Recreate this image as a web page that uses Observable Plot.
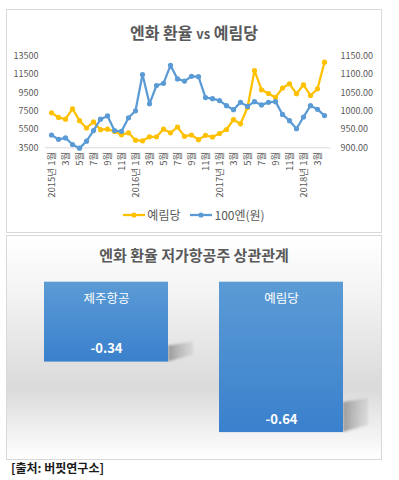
<!DOCTYPE html>
<html><head><meta charset="utf-8">
<script src="https://cdn.jsdelivr.net/npm/d3@7"></script>
<script src="https://cdn.jsdelivr.net/npm/@observablehq/plot@0.6"></script>
<style>
html,body{margin:0;padding:0;background:#fff;}
body{font-family:"Noto Sans CJK KR","Noto Sans",sans-serif;}
#page{position:relative;width:399px;height:480px;overflow:hidden;}
.panel{position:absolute;box-sizing:border-box;border:1px solid #d9d9d9;}
#p1{left:6px;top:9px;width:376px;height:224px;background:#fff;}
#p2{left:6px;top:235px;width:376px;height:225px;
  background:linear-gradient(180deg,#ffffff 0%,#f4f4f4 25%,#dadada 68%,#f6f6f6 92%,#ffffff 100%);}
.title{position:absolute;left:0;width:100%;text-align:center;color:#595959;font-weight:700;line-height:1;}
.title .vs{font-size:13px;}
.panel svg.plot{position:absolute;left:0;top:0;}
#legend{position:absolute;left:0;top:199px;width:100%;display:flex;justify-content:center;gap:10px;
  font-size:12px;color:#595959;line-height:1;}
#legend .item{display:flex;align-items:center;gap:2px;}
#source{position:absolute;left:11px;top:459px;font-size:12px;font-weight:700;color:#1a1a1a;}
</style>
</head>
<body>
<svg width="0" height="0" style="position:absolute">
  <defs>
    <linearGradient id="barGrad" x1="0" y1="0" x2="0" y2="1">
      <stop offset="0%" stop-color="#5b9bd5"/>
      <stop offset="100%" stop-color="#3a80cc"/>
    </linearGradient>
    <linearGradient id="shadowGrad" x1="0" y1="0" x2="1" y2="0">
      <stop offset="0%" stop-color="#8c8c8c" stop-opacity="0.85"/>
      <stop offset="100%" stop-color="#bdbdbd" stop-opacity="0.35"/>
    </linearGradient>
    <filter id="blur1" x="-20%" y="-20%" width="140%" height="140%">
      <feGaussianBlur stdDeviation="1.3"/>
    </filter>
  </defs>
</svg>
<div id="page">
  <div class="panel" id="p1">
    <div class="title" style="top:14px;font-size:16px;">엔화 환율 <span class="vs">vs</span> 예림당</div>
    <div id="legend"></div>
  </div>
  <div class="panel" id="p2">
    <div class="title" style="top:11px;font-size:15px;">엔화 환율 저가항공주 상관관계</div>
  </div>
  <div id="source">[출처: 버핏연구소]</div>
</div>
<script>
// ---------- data ----------
const periods = [
  "2015-01","2015-02","2015-03","2015-04","2015-05","2015-06","2015-07","2015-08","2015-09","2015-10","2015-11","2015-12",
  "2016-01","2016-02","2016-03","2016-04","2016-05","2016-06","2016-07","2016-08","2016-09","2016-10","2016-11","2016-12",
  "2017-01","2017-02","2017-03","2017-04","2017-05","2017-06","2017-07","2017-08","2017-09","2017-10","2017-11","2017-12",
  "2018-01","2018-02","2018-03","2018-04"
];
const tickLabels = [
  "2015년 1월","3월","5월","7월","9월","11월",
  "2016년 1월","3월","5월","7월","9월","11월",
  "2017년 1월","3월","5월","7월","9월","11월",
  "2018년 1월","3월"
];
const yearimdang = [
  7320,6820,6620,7760,6460,5660,6320,5480,5530,5290,4920,5140,
  4330,4260,4700,4700,5530,5130,5770,4750,4900,4390,4860,4680,
  5060,5500,6570,6120,7900,11940,9830,9430,9000,10030,10490,9400,
  10380,9210,9940,12850
];
const yen100 = [
  935,923,927,909,899,918,947,978,987,947,945,982,
  1001,1100,1020,1070,1076,1125,1088,1082,1095,1094,1037,1034,
  1029,1015,1004,1024,1013,1026,1017,1024,1026,991,974,952,
  984,1015,1005,988
];
const leftTicks = [3500,5500,7500,9500,11500,13500];
const rightTicks = [900,950,1000,1050,1100,1150];
const seriesNames = ["예림당","100엔(원)"];
const seriesColors = ["#FFC000","#5B9BD5"];

const corrNames = ["제주항공","예림당"];
const corrValues = [-0.34,-0.64];

// ---------- helpers ----------
const L0 = leftTicks[0], L1 = leftTicks[leftTicks.length-1];
const R0 = rightTicks[0], R1 = rightTicks[rightTicks.length-1];
const toLeft = v => L0 + (v - R0) * (L1 - L0) / (R1 - R0);
const fromLeft = v => R0 + (v - L0) * (R1 - R0) / (L1 - L0);

const rowsA = periods.map((p,i) => ({period:p, v:yearimdang[i]}));
const rowsB = periods.map((p,i) => ({period:p, v:toLeft(yen100[i])}));
const tickPeriods = periods.filter((_,i) => i % 2 === 0).slice(0, tickLabels.length);
const labelOf = p => tickLabels[tickPeriods.indexOf(p)];

const font = '"Noto Sans CJK KR","Noto Sans",sans-serif';

// ---------- chart 1 ----------
const chart1 = Plot.plot({
  width: 374, height: 222,
  marginLeft: 38, marginRight: 51, marginTop: 45.7, marginBottom: 84.7,
  style: {fontFamily: font, fontSize: "9px", color: "#595959", background: "transparent", overflow: "visible"},
  x: {type: "point", domain: periods, padding: 0.5, axis: null},
  y: {domain: [L0, L1], axis: null},
  marks: [
    Plot.ruleY([L0], {stroke: "#d9d9d9", strokeWidth: 1}),
    Plot.axisY(leftTicks, {anchor: "left", tickSize: 0, tickPadding: 7, label: null, fill: "#595959",
      tickFormat: d => String(d)}),
    Plot.axisY(leftTicks, {anchor: "right", tickSize: 0, tickPadding: 10, label: null, fill: "#595959",
      tickFormat: d => fromLeft(d).toFixed(2)}),
    Plot.axisX(tickPeriods, {anchor: "bottom", tickSize: 0, tickPadding: 4, tickRotate: -90, label: null,
      tickFormat: labelOf, fill: "#595959", fontSize: 9.5}),
    Plot.line(rowsA, {x: "period", y: "v", stroke: seriesColors[0], strokeWidth: 2.25, curve: "linear"}),
    Plot.dot(rowsA, {x: "period", y: "v", r: 2.6, fill: seriesColors[0], stroke: "none"}),
    Plot.line(rowsB, {x: "period", y: "v", stroke: seriesColors[1], strokeWidth: 2.25, curve: "linear"}),
    Plot.dot(rowsB, {x: "period", y: "v", r: 2.6, fill: seriesColors[1], stroke: "none"})
  ]
});
chart1.classList.add("plot");
document.getElementById("p1").appendChild(chart1);

// legend
const legend = document.getElementById("legend");
seriesNames.forEach((name, i) => {
  const item = document.createElement("div");
  item.className = "item";
  item.innerHTML = `<svg width="22" height="8"><line x1="0" x2="22" y1="4" y2="4" stroke="${seriesColors[i]}" stroke-width="2.25"/><circle cx="11" cy="4" r="2.6" fill="${seriesColors[i]}"/></svg><span>${name}</span>`;
  legend.appendChild(item);
});

// ---------- chart 2 ----------
const corrRows = corrNames.map((n,i) => ({name:n, value:corrValues[i]}));
const chart2 = Plot.plot({
  width: 374, height: 223,
  marginLeft: 1.1, marginRight: 2.3, marginTop: 45.7, marginBottom: 1.05,
  style: {fontFamily: font, background: "transparent", overflow: "visible"},
  x: {type: "band", domain: corrNames, paddingInner: 0.292, paddingOuter: 0.2, axis: null},
  y: {domain: [-0.75, 0], axis: null},
  marks: [
    // cast shadow (derived from the bar geometry)
    Plot.barY(corrRows, {x: "name", y: "value", fill: "url(#shadowGrad)",
      render: (index, scales, values, dims, ctx, next) => {
        const g = next(index, scales, values, dims, ctx);
        d3.select(g).selectAll("rect").each(function() {
          const r = d3.select(this);
          const x = +r.attr("x"), y = +r.attr("y"), w = +r.attr("width"), h = +r.attr("height");
          const xr = x + w, yb = y + h, a = 0.2 * h, sw = 25;
          const path = `M${xr},${yb - a}L${xr + sw},${yb - a - 4}L${xr + sw},${yb - 7}L${xr},${yb}Z`;
          d3.select(this.parentNode).append("path").attr("d", path).attr("fill", "url(#shadowGrad)").attr("filter", "url(#blur1)");
          r.remove();
        });
        return g;
      }}),
    Plot.barY(corrRows, {x: "name", y: "value", fill: "url(#barGrad)"}),
    Plot.text(corrRows, {x: "name", y: () => 0, text: "name", dy: 17, fill: "#ffffff", fontSize: 12.5, fontWeight: 400}),
    Plot.text(corrRows, {x: "name", y: "value", text: d => d.value.toFixed(2), dy: -13, fill: "#ffffff", fontSize: 13, fontWeight: 700})
  ]
});
chart2.classList.add("plot");
document.getElementById("p2").appendChild(chart2);
</script>
</body></html>
